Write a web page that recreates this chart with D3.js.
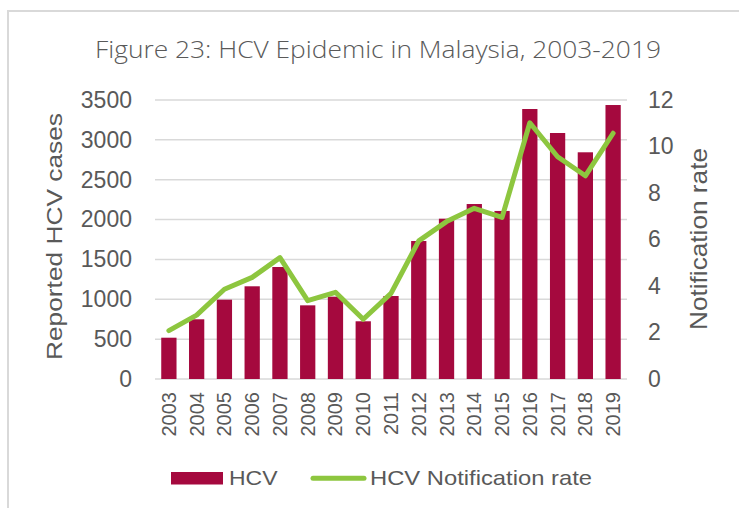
<!DOCTYPE html>
<html>
<head>
<meta charset="utf-8">
<script src="https://cdn.jsdelivr.net/npm/d3@7"></script>
<style>
  body { margin: 0; background: #fff; }
</style>
</head>
<body>
<svg id="drawing_region"></svg>
<script>
// data
const years = ["2003", "2004", "2005", "2006", "2007", "2008", "2009", "2010", "2011",
    "2012", "2013", "2014", "2015", "2016", "2017", "2018", "2019"];
const hcvCases = [518, 749, 995, 1163, 1405, 924, 1033, 724, 1041,
    1731, 2011, 2195, 2108, 3387, 3086, 2844, 3437];
const notificationRate = [2.08, 2.75, 3.86, 4.37, 5.22, 3.37, 3.73, 2.57, 3.68,
    5.94, 6.77, 7.34, 6.95, 11.02, 9.56, 8.74, 10.57];
const leftTicks = [0, 500, 1000, 1500, 2000, 2500, 3000, 3500];
const rightTicks = [0, 2, 4, 6, 8, 10, 12];

class ComboChart {

    constructor(config) {
        this.config = config;
        this.init();
    }

    init() {
        let self = this;

        self.svg = d3.select(self.config.parent)
            .attr('width', self.config.width)
            .attr('height', self.config.height);

        // outer frame (goes off the right/bottom edge)
        self.svg.append("rect")
            .attr("x", 8)
            .attr("y", 11)
            .attr("width", 800)
            .attr("height", 600)
            .attr("fill", "none")
            .attr("stroke", "#d9d9d9")
            .attr("stroke-width", 2);

        // title
        self.svg.append("text")
            .attr("x", 95)
            .attr("y", 58)
            .attr("fill", "#595959")
            .attr("font-family", "'Open Sans', sans-serif")
            .attr("font-weight", 300)
            .attr("font-size", "24px")
            .attr("textLength", 566)
            .attr("lengthAdjust", "spacingAndGlyphs")
            .text("Figure 23: HCV Epidemic in Malaysia, 2003-2019");
    }

    update() {
        let self = this;
        const p = self.config.plot;

        self.xScale = d3.scaleBand()
            .domain(years)
            .range([p.left, p.right])
            .paddingInner(0.45)
            .paddingOuter(0.225);

        self.yLeft = d3.scaleLinear()
            .domain([0, 3500])
            .range([p.bottom, p.top]);

        self.yRight = d3.scaleLinear()
            .domain([0, 12])
            .range([p.bottom, p.top]);

        self.line = d3.line()
            .x((d, i) => self.xScale(years[i]) + self.xScale.bandwidth() / 2)
            .y(d => self.yRight(d));

        self.render();
    }

    render() {
        let self = this;
        const p = self.config.plot;
        const textColor = "#595959";
        const font = "'Liberation Sans', Arial, sans-serif";

        // gridlines
        self.svg.append("g")
            .selectAll("line")
            .data(leftTicks)
            .join("line")
            .attr("x1", p.left)
            .attr("x2", p.right)
            .attr("y1", d => self.yLeft(d))
            .attr("y2", d => self.yLeft(d))
            .attr("stroke", "#d9d9d9")
            .attr("stroke-width", 1.5);

        // left axis
        let yl = self.svg.append("g")
            .attr("transform", `translate(${p.left - 23},0)`)
            .call(d3.axisLeft(self.yLeft).tickValues(leftTicks).tickFormat(d3.format("d"))
                .tickSize(0).tickPadding(0));
        yl.select(".domain").remove();
        yl.selectAll("text")
            .attr("fill", textColor)
            .attr("font-family", font)
            .attr("font-size", "23px");

        // right axis
        let yr = self.svg.append("g")
            .attr("transform", `translate(${p.right + 21},0)`)
            .call(d3.axisRight(self.yRight).tickValues(rightTicks).tickSize(0).tickPadding(0));
        yr.select(".domain").remove();
        yr.selectAll("text")
            .attr("fill", textColor)
            .attr("font-family", font)
            .attr("font-size", "23px");

        // bars
        self.svg.append("g")
            .selectAll("rect")
            .data(hcvCases)
            .join("rect")
            .attr("x", (d, i) => self.xScale(years[i]))
            .attr("y", d => self.yLeft(d))
            .attr("width", self.xScale.bandwidth())
            .attr("height", d => self.yLeft(0) - self.yLeft(d))
            .attr("fill", "#a5093e");

        // notification rate line
        self.svg.append("path")
            .datum(notificationRate)
            .attr("fill", "none")
            .attr("stroke", "#8dc63f")
            .attr("stroke-width", 5)
            .attr("stroke-linejoin", "round")
            .attr("stroke-linecap", "round")
            .attr("d", self.line);

        // x axis labels (rotated)
        let xa = self.svg.append("g")
            .attr("transform", `translate(0,${p.bottom + 13})`)
            .call(d3.axisBottom(self.xScale).tickSize(0).tickPadding(0));
        xa.select(".domain").remove();
        xa.selectAll("text")
            .attr("fill", textColor)
            .attr("font-family", font)
            .attr("font-size", "20px")
            .attr("transform", "rotate(-90)")
            .attr("text-anchor", "end")
            .attr("x", 0)
            .attr("y", 0)
            .attr("dy", "0.35em");

        // axis titles
        self.svg.append("text")
            .attr("transform", "translate(62,236.5) rotate(-90)")
            .attr("text-anchor", "middle")
            .attr("fill", textColor)
            .attr("font-family", font)
            .attr("font-size", "22px")
            .attr("textLength", 247)
            .attr("lengthAdjust", "spacingAndGlyphs")
            .text("Reported HCV cases");

        self.svg.append("text")
            .attr("transform", "translate(707,239) rotate(-90)")
            .attr("text-anchor", "middle")
            .attr("fill", textColor)
            .attr("font-family", font)
            .attr("font-size", "24px")
            .attr("textLength", 182)
            .attr("lengthAdjust", "spacingAndGlyphs")
            .text("Notification rate");

        // legend
        let lg = self.svg.append("g");
        lg.append("rect")
            .attr("x", 171)
            .attr("y", 472)
            .attr("width", 52)
            .attr("height", 12.5)
            .attr("fill", "#a5093e");
        lg.append("text")
            .attr("x", 229)
            .attr("y", 485)
            .attr("fill", textColor)
            .attr("font-family", font)
            .attr("font-size", "21px")
            .attr("textLength", 48.5)
            .attr("lengthAdjust", "spacingAndGlyphs")
            .text("HCV");
        lg.append("line")
            .attr("x1", 313)
            .attr("x2", 364)
            .attr("y1", 478.3)
            .attr("y2", 478.3)
            .attr("stroke", "#8dc63f")
            .attr("stroke-width", 5)
            .attr("stroke-linecap", "round");
        lg.append("text")
            .attr("x", 370)
            .attr("y", 485)
            .attr("fill", textColor)
            .attr("font-family", font)
            .attr("font-size", "21px")
            .attr("textLength", 222)
            .attr("lengthAdjust", "spacingAndGlyphs")
            .text("HCV Notification rate");
    }
}

const config = {
    parent: '#drawing_region',
    width: 739,
    height: 508,
    plot: {left: 155, right: 627, top: 100, bottom: 379}
};
const chart = new ComboChart(config);
chart.update();
</script>
</body>
</html>
